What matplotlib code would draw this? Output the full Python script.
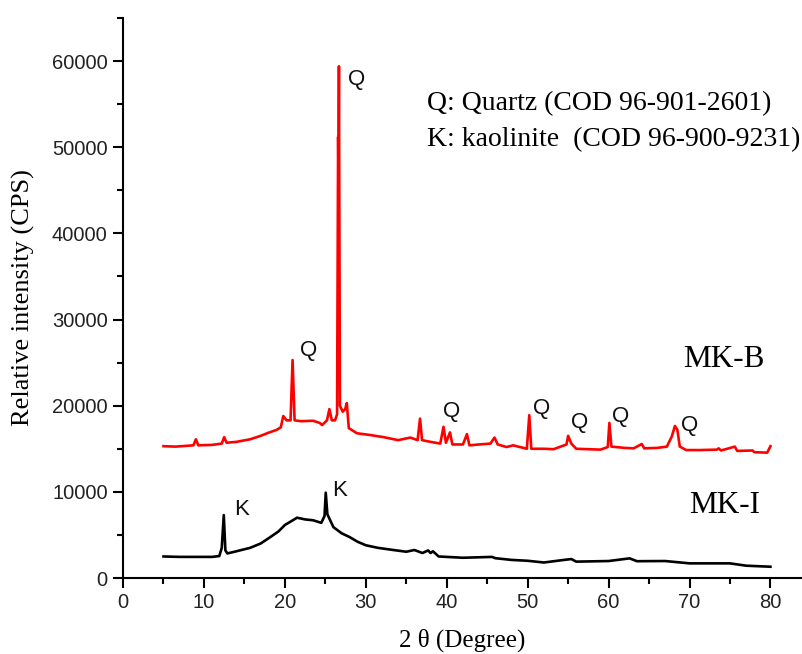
import matplotlib.pyplot as plt
from matplotlib.ticker import MultipleLocator

# MK-B diffractogram (2theta, counts)
two_theta_b = [5.0, 6.5, 8.0, 8.7, 9.0, 9.3, 11.0, 12.2, 12.5, 12.8, 14.0, 15.7, 17.0, 17.8,
               19.0, 19.5, 19.8, 20.2, 20.7, 20.95, 21.2, 22.0, 23.5, 24.3, 24.6, 25.2, 25.5,
               25.8, 26.2, 26.45, 26.58, 26.62, 26.68, 26.8, 27.15, 27.45, 27.65, 27.9, 28.9,
               30.5, 32.2, 34.0, 35.5, 36.4, 36.7, 36.95, 38.0, 39.2, 39.6, 39.9, 40.4, 40.7,
               42.0, 42.5, 42.8, 44.0, 45.4, 45.9, 46.3, 47.4, 48.2, 49.9, 50.2, 50.45, 52.0,
               53.2, 54.8, 55.0, 55.4, 56.0, 59.0, 59.9, 60.1, 60.35, 62.0, 63.1, 64.1, 64.4,
               66.0, 67.2, 67.8, 68.2, 68.5, 68.8, 69.6, 71.3, 73.4, 73.6, 73.9, 75.6, 75.9,
               77.8, 78.0, 79.6, 80.0]
counts_b = [15300, 15250, 15350, 15400, 16100, 15400, 15450, 15600, 16350, 15700, 15800, 16100,
            16500, 16800, 17200, 17500, 18800, 18300, 18300, 25300, 18300, 18200, 18250, 18000,
            17750, 18300, 19600, 18300, 18300, 19000, 51200, 47000, 59400, 20000, 19300, 19600,
            20300, 17400, 16800, 16600, 16350, 16000, 16300, 16000, 18500, 16000, 15800, 15600,
            17550, 15700, 16900, 15500, 15500, 16700, 15400, 15500, 15600, 16300, 15500, 15200,
            15400, 15000, 18900, 15000, 15000, 14950, 15500, 16500, 15600, 15000, 14900, 15200,
            18000, 15250, 15100, 15050, 15550, 15050, 15100, 15250, 16400, 17650, 17200, 15250,
            14850, 14850, 14900, 15050, 14800, 15250, 14750, 14800, 14600, 14550, 15300]

# MK-I diffractogram
two_theta_i = [5.0, 7.0, 9.0, 11.0, 11.9, 12.2, 12.45, 12.65, 12.9, 14.0, 15.7, 17.0, 18.2, 19.2,
               20.0, 20.8, 21.5, 22.5, 23.5, 24.5, 24.9, 25.05, 25.25, 25.6, 26.0, 27.0, 28.0,
               29.0, 30.0, 31.5, 33.4, 35.0, 36.0, 37.0, 37.7, 38.0, 38.3, 39.0, 42.0, 45.6,
               46.0, 48.0, 50.0, 52.0, 54.5, 55.4, 56.0, 60.0, 62.6, 63.5, 67.0, 70.0, 75.0,
               77.0, 80.0]
counts_i = [2500, 2450, 2450, 2450, 2550, 3500, 7300, 3200, 2850, 3100, 3500, 4000, 4750, 5400,
            6150, 6600, 7000, 6800, 6700, 6400, 7200, 9900, 7400, 6700, 5900, 5200, 4750, 4200,
            3800, 3500, 3250, 3050, 3250, 2900, 3200, 2900, 3100, 2500, 2350, 2450, 2300, 2100,
            2000, 1800, 2100, 2200, 1900, 1970, 2280, 1950, 1970, 1700, 1700, 1430, 1310]

# phase markers: letter, 2theta, height
peak_tags = ['Q', 'Q', 'K', 'K', 'Q', 'Q', 'Q', 'Q', 'Q']
tag_x = [27.8, 21.9, 13.7, 25.8, 39.6, 50.7, 55.4, 60.4, 69.0]
tag_y = [57900, 26450, 7900, 10200, 19350, 19700, 18100, 18800, 17650]

serif = 'Liberation Serif'
sans = 'Liberation Sans'

fig = plt.figure(figsize=(8.02, 6.54), dpi=100)
ax = fig.add_axes([0.1534, 0.1162, 0.8466, 0.8563])

ax.plot(two_theta_b, counts_b, color='#ff0000', lw=1.9)
ax.plot(two_theta_i, counts_i, color='black', lw=1.9)

for t, x, y in zip(peak_tags, tag_x, tag_y):
    ax.text(x, y, t, fontsize=16, family=sans, ha='left', va='center', color='#111111')

ax.text(69.2, 25400, 'MK-B', fontsize=22.5, family=serif, ha='left', va='center')
ax.text(70.0, 8470, 'MK-I', fontsize=22.5, family=serif, ha='left', va='center')
ax.text(37.6, 55100, 'Q: Quartz (COD 96-901-2601)', fontsize=20, family=serif,
        ha='left', va='center')
ax.text(37.6, 50900, 'K: kaolinite  (COD 96-900-9231)', fontsize=20, family=serif,
        ha='left', va='center', clip_on=False)

ax.set_xlim(0, 83.9)
ax.set_ylim(0, 65000)
ax.xaxis.set_major_locator(MultipleLocator(10))
ax.xaxis.set_minor_locator(MultipleLocator(5))
ax.yaxis.set_major_locator(MultipleLocator(10000))
ax.yaxis.set_minor_locator(MultipleLocator(5000))

ax.spines['top'].set_visible(False)
ax.spines['right'].set_visible(False)
for s in ['left', 'bottom']:
    ax.spines[s].set_linewidth(1.5)
ax.tick_params(which='major', direction='out', length=7, width=1.5, labelsize=14.5, pad=4)
ax.tick_params(which='minor', direction='out', length=4, width=1.5)
for lab in ax.get_xticklabels() + ax.get_yticklabels():
    lab.set_family(sans)
    lab.set_color('#222222')

ax.set_xlabel('2 θ (Degree)', fontsize=18, family=serif, labelpad=12)
ax.set_ylabel('Relative intensity (CPS)', fontsize=19, family=serif, labelpad=12)

fig.savefig('out.png', dpi=100)
